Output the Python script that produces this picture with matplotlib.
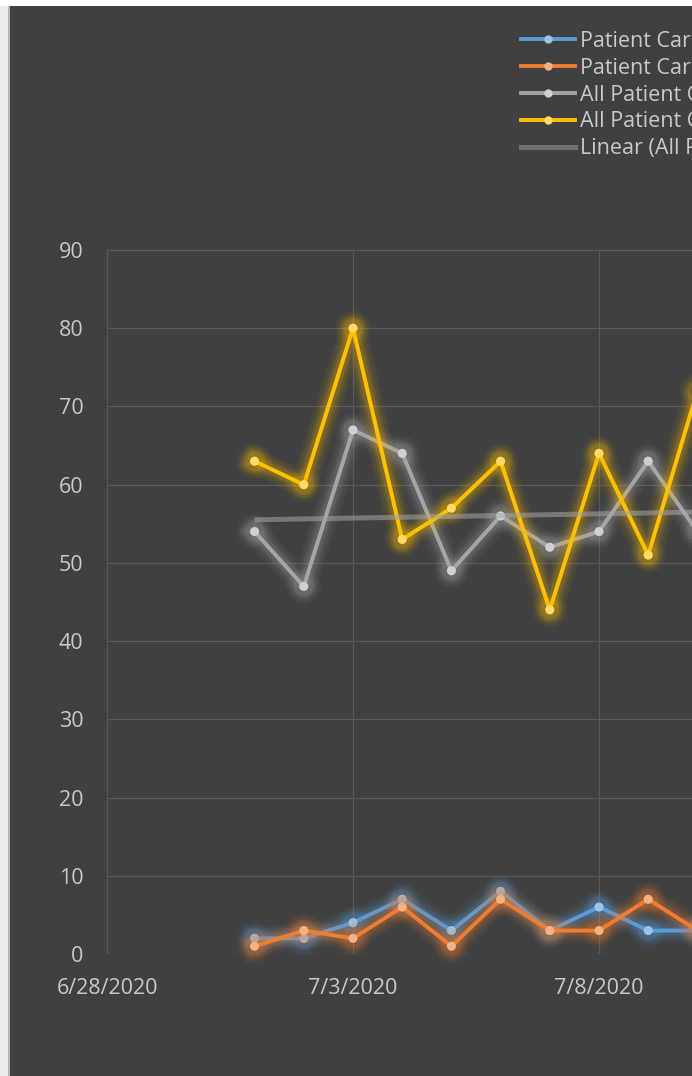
import numpy as np
import pandas as pd
import matplotlib
matplotlib.use("Agg")
import matplotlib.pyplot as plt
import matplotlib.dates as mdates
import matplotlib.patheffects as pe
from matplotlib.patches import Rectangle
from matplotlib.lines import Line2D

# Daily values (the right part of the chart is cut off)
dates = ["2020-07-01", "2020-07-02", "2020-07-03", "2020-07-04", "2020-07-05",
         "2020-07-06", "2020-07-07", "2020-07-08", "2020-07-09", "2020-07-10"]
care_a = [2, 2, 4, 7, 3, 8, 3, 6, 3, 3]
care_b = [1, 3, 2, 6, 1, 7, 3, 3, 7, 3]
all_a = [54, 47, 67, 64, 49, 56, 52, 54, 63, 54]
all_b = [63, 60, 80, 53, 57, 63, 44, 64, 51, 72]

labels = ["Patient Care Positive", "Patient Care Pending",
          "All Patient Count", "All Patient Census", "Linear (All Patient Count)"]

tick_dates = ["2020-06-28", "2020-07-03", "2020-07-08"]
tick_labels = ["6/28/2020", "7/3/2020", "7/8/2020"]
x_end = "2020-07-18"
y_ticks = [0, 10, 20, 30, 40, 50, 60, 70, 80, 90]

BG = "#404040"
GRID = "#5a5a5a"
TXT = "#c9c9c9"
FONT = "Open Sans"

x = mdates.date2num(pd.to_datetime(dates))
xt = mdates.date2num(pd.to_datetime(tick_dates))
xe = mdates.date2num(pd.to_datetime(x_end))

fig = plt.figure(figsize=(6.92, 10.76), dpi=100)
fig.patch.set_facecolor("white")

# window chrome: light strip on the left, dark chart area
fig.patches.append(Rectangle((0, 0), 10 / 692, 1 - 6 / 1076, transform=fig.transFigure,
                             facecolor="#ececec", edgecolor="none", zorder=-5))
fig.patches.append(Rectangle((8 / 692, 0), 1.5 / 692, 1 - 6 / 1076, transform=fig.transFigure,
                             facecolor="#b4b4b4", edgecolor="none", zorder=-4))
fig.patches.append(Rectangle((10 / 692, 0), 1, 1 - 6 / 1076, transform=fig.transFigure,
                             facecolor=BG, edgecolor="none", zorder=-5))

ax_w = (xe - xt[0]) * 49.2 / 692
ax = fig.add_axes([107 / 692, 122 / 1076, ax_w, 704 / 1076])
ax.set_facecolor("none")


def glow(color):
    # soft halo like Excel's glow effect
    return [pe.Stroke(linewidth=19, foreground=color, alpha=0.05, joinstyle="round"),
            pe.Stroke(linewidth=15, foreground=color, alpha=0.07, joinstyle="round"),
            pe.Stroke(linewidth=11, foreground=color, alpha=0.10, joinstyle="round"),
            pe.Stroke(linewidth=7.5, foreground=color, alpha=0.14, joinstyle="round"),
            pe.Normal()]


series = [(care_a, "#5b9bd5", "#9dc3e6"),
          (care_b, "#ed7d31", "#f4b183"),
          (all_a, "#a5a5a5", "#d0d0d0"),
          (all_b, "#ffc000", "#ffd966")]

handles = []
for i, (vals, col, mcol) in enumerate(series):
    ln, = ax.plot(x, vals, color=col, lw=2.9, marker="o", ms=6.5,
                  markerfacecolor=mcol, markeredgecolor="none",
                  zorder=3 + i, solid_joinstyle="round")
    ln.set_path_effects(glow(col))
    ln.set_clip_on(False)
    handles.append(Line2D([], [], color=col, lw=2.8, marker="o", ms=6,
                          markerfacecolor=mcol, markeredgecolor="none"))

# linear trend of the grey series
k, b = np.polyfit(x, all_a, 1)
ax.plot(x, k * x + b, color="#a5a5a5", lw=3.6, alpha=0.55, zorder=8,
        solid_capstyle="butt")
handles.append(Line2D([], [], color="#707070", lw=3.6))

ax.set_xlim(xt[0], xe)
ax.set_ylim(0, 90)
ax.set_xticks(xt, tick_labels)
ax.set_yticks(y_ticks)
ax.grid(True, color=GRID, lw=0.9)
ax.set_axisbelow(True)
for s in ax.spines.values():
    s.set_visible(False)
ax.axhline(0, color=GRID, lw=0.9, zorder=1)
ax.tick_params(length=0, colors=TXT, labelsize=15.5)
ax.tick_params(axis="y", pad=17)
ax.tick_params(axis="x", pad=17)
for t in ax.get_xticklabels() + ax.get_yticklabels():
    t.set_fontfamily(FONT)

leg = fig.legend(handles, labels, loc="upper left",
                 bbox_to_anchor=(521 / 692, 1 - 31 / 1076),
                 frameon=False, borderpad=0, borderaxespad=0,
                 handlelength=2.5, handletextpad=0.23, labelspacing=0.27,
                 prop={"family": FONT, "size": 15.5})
for t in leg.get_texts():
    t.set_color(TXT)

fig.savefig("out.png", dpi=100, facecolor=fig.get_facecolor())
